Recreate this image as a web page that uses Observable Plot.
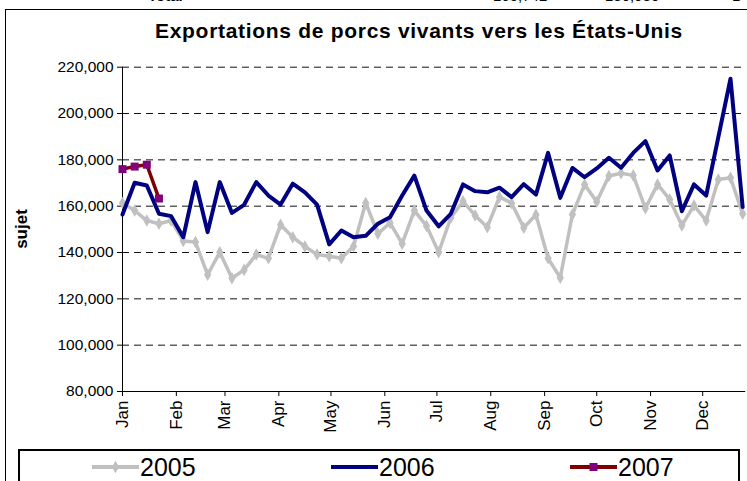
<!DOCTYPE html>
<html>
<head>
<meta charset="utf-8">
<script src="https://cdn.jsdelivr.net/npm/d3@7"></script>
<script src="https://cdn.jsdelivr.net/npm/@observablehq/plot@0.6"></script>
<style>
  html, body { margin:0; padding:0; background:#fff; }
  body { width:747px; height:481px; overflow:hidden; position:relative;
         font-family:"Liberation Sans", Arial, sans-serif; color:#000; }
  .abs { position:absolute; white-space:nowrap; }
  #frame { left:5px; top:9px; width:900px; height:700px; border:1px solid #000; box-sizing:border-box; }
  #title { left:0; width:838px; top:19px; text-align:center; font-weight:bold; font-size:21px; letter-spacing:0.7px; }
  #ylab { left:22px; top:229px; font-weight:bold; font-size:17px; transform:translate(-50%,-50%) rotate(-90deg); }
  #legend { left:18px; top:449px; width:722px; height:60px; border:2px solid #000; box-sizing:border-box; background:#fff; }
  .lg { position:absolute; top:2px; font-size:25px; line-height:28px; }
  .toprow { top:-12px; font-size:15px; line-height:15px; }
</style>
</head>
<body>
<script>
// ---- data ----
const months = ["Jan","Feb","Mar","Apr","May","Jun","Jul","Aug","Sep","Oct","Nov","Dec"];
const monthStartDay = [0,31,59,90,120,151,181,212,243,273,304,334];
const yTicks = [80000,100000,120000,140000,160000,180000,200000,220000];
const gridValues = [100000,120000,140000,160000,180000,200000,220000];
const series = ["2005","2006","2007"];
const values2005 = [161400,158100,153800,152400,153800,145000,144500,130400,140100,128900,132500,139100,137500,
  152000,146600,142600,139100,138400,137500,142700,161400,148100,152800,143800,158100,151500,
  140100,155000,162100,156000,150900,164000,161300,150700,156300,137500,129100,156400,169400,
  161900,173000,174200,173300,159100,169400,162900,151700,160300,153800,171500,172300,156700];
const values2006 = [156400,170100,168900,156700,155700,146600,170400,148800,170400,157100,160600,170400,164600,
  160700,169700,166000,160700,143500,149500,146600,147200,152400,155200,164600,173200,158100,
  151300,156700,169400,166500,166000,168000,163900,169500,165000,183000,163600,176500,172500,
  176300,180900,176600,183000,188100,175400,181900,157800,169400,164600,189800,215000,159600];
const values2007 = [176000,177100,177900,163300];

const toRows = vals => vals.map((v,i) => ({week:i, value:v}));
const d2005 = toRows(values2005), d2006 = toRows(values2006), d2007 = toRows(values2007);
const monthTicks = monthStartDay.map(d => d/7);

const colors = {grey:"#C0C0C0", navy:"#000080", red:"#800000", purple:"#800080"};

// ---- static page parts ----
document.body.insertAdjacentHTML("beforeend", `
  <div class="abs toprow" style="left:148px;font-weight:bold;">Total</div>
  <div class="abs toprow" style="left:493px;">165,742</div>
  <div class="abs toprow" style="left:605px;">180,930</div>
  <div class="abs toprow" style="left:732px;">1</div>
  <div id="frame" class="abs"></div>
  <div id="title" class="abs">Exportations de porcs vivants vers les États-Unis</div>
  <div id="ylab" class="abs">sujet</div>
`);

const chart = Plot.plot({
  width: 747,
  height: 445,
  marginTop: 66.7,
  marginBottom: 54,
  marginLeft: 122,
  marginRight: 1.8,
  style: {fontFamily:"'Liberation Sans', Arial, sans-serif", fontSize:"15px", color:"#000", background:"transparent", overflow:"visible"},
  x: {domain:[0,51.25], axis:null},
  y: {domain:[80000,220000], axis:null},
  marks: [
    Plot.ruleY(gridValues, {stroke:"#111", strokeWidth:1, strokeDasharray:"7,5"}),
    Plot.ruleY([80000], {stroke:"#000", strokeWidth:1}),
    Plot.ruleX([0], {stroke:"#000", strokeWidth:1}),
    Plot.axisY({anchor:"left", label:null, ticks:yTicks, tickFormat:d3.format(","), tickSize:5, tickPadding:4, fontSize:15.5}),
    Plot.axisX({anchor:"bottom", label:null, ticks:monthTicks, tickFormat:d => months[monthTicks.indexOf(d)],
                tickRotate:-90, tickSize:5, tickPadding:4, fontSize:17}),
    Plot.line(d2005, {x:"week", y:"value", stroke:colors.grey, strokeWidth:3.5}),
    Plot.dot(d2005, {x:"week", y:"value", symbol:"diamond", fill:colors.grey, r:3.8}),
    Plot.line(d2006, {x:"week", y:"value", stroke:colors.navy, strokeWidth:4}),
    Plot.line(d2007, {x:"week", y:"value", stroke:colors.red, strokeWidth:3.5}),
    Plot.dot(d2007, {x:"week", y:"value", symbol:"square", fill:colors.purple, r:4.5})
  ]
});
chart.style.position = "absolute";
chart.style.left = "0px";
chart.style.top = "0px";
document.body.appendChild(chart);

// ---- legend ----
const legend = document.createElement("div");
legend.id = "legend"; legend.className = "abs";
const items = [
  {label:series[0], x:72, line:colors.grey, marker:"diamond", mfill:colors.grey},
  {label:series[1], x:311, line:colors.navy, marker:null},
  {label:series[2], x:550, line:colors.red, marker:"square", mfill:colors.purple}
];
items.forEach(it => {
  const s = document.createElementNS("http://www.w3.org/2000/svg","svg");
  s.setAttribute("width","48"); s.setAttribute("height","20");
  s.style.position="absolute"; s.style.left = it.x+"px"; s.style.top = "6px";
  let inner = `<line x1="0" y1="10" x2="47" y2="10" stroke="${it.line}" stroke-width="4"/>`;
  if (it.marker === "diamond") inner += `<path d="${d3.symbol(d3.symbolDiamond, 45)()}" transform="translate(23.5,10)" fill="${it.mfill}"/>`;
  if (it.marker === "square") inner += `<rect x="19.5" y="6" width="8" height="8" fill="${it.mfill}"/>`;
  s.innerHTML = inner;
  legend.appendChild(s);
  const t = document.createElement("div");
  t.className = "lg"; t.style.left = (it.x+48)+"px"; t.textContent = it.label;
  legend.appendChild(t);
});
document.body.appendChild(legend);
</script>
</body>
</html>
